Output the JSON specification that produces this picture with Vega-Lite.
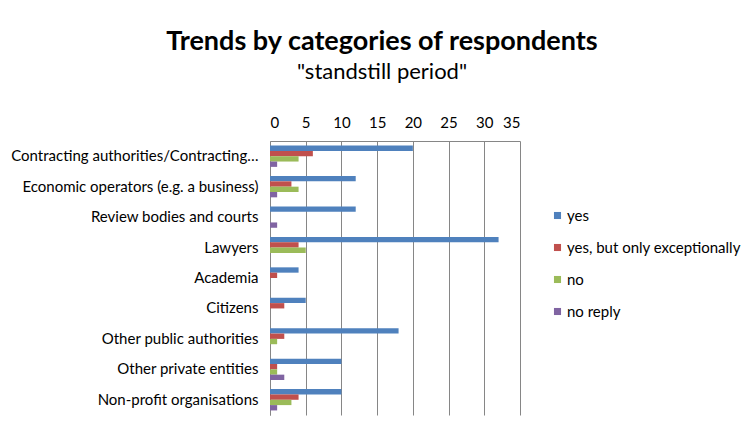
{
  "$schema": "https://vega.github.io/schema/vega-lite/v6.json",
  "autosize": "none",
  "width": 250,
  "height": 274,
  "padding": {"left": 270, "top": 141, "right": 223, "bottom": 12},
  "background": "white",
  "title": {
    "text": "Trends by categories of respondents",
    "subtitle": "\"standstill period\"",
    "font": "Lato",
    "fontSize": 27,
    "fontWeight": "bold",
    "color": "#000000",
    "subtitleFont": "Lato",
    "subtitleFontSize": 22,
    "subtitleColor": "#000000",
    "subtitlePadding": 6,
    "anchor": "middle",
    "dx": -13,
    "offset": 31
  },
  "data": {
    "values": [
      {"category": "Contracting authorities/Contracting entities", "series": "yes", "value": 20},
      {"category": "Contracting authorities/Contracting entities", "series": "yes, but only exceptionally", "value": 6},
      {"category": "Contracting authorities/Contracting entities", "series": "no", "value": 4},
      {"category": "Contracting authorities/Contracting entities", "series": "no reply", "value": 1},
      {"category": "Economic operators (e.g. a business)", "series": "yes", "value": 12},
      {"category": "Economic operators (e.g. a business)", "series": "yes, but only exceptionally", "value": 3},
      {"category": "Economic operators (e.g. a business)", "series": "no", "value": 4},
      {"category": "Economic operators (e.g. a business)", "series": "no reply", "value": 1},
      {"category": "Review bodies and courts", "series": "yes", "value": 12},
      {"category": "Review bodies and courts", "series": "yes, but only exceptionally", "value": 0},
      {"category": "Review bodies and courts", "series": "no", "value": 0},
      {"category": "Review bodies and courts", "series": "no reply", "value": 1},
      {"category": "Lawyers", "series": "yes", "value": 32},
      {"category": "Lawyers", "series": "yes, but only exceptionally", "value": 4},
      {"category": "Lawyers", "series": "no", "value": 5},
      {"category": "Lawyers", "series": "no reply", "value": 0},
      {"category": "Academia", "series": "yes", "value": 4},
      {"category": "Academia", "series": "yes, but only exceptionally", "value": 1},
      {"category": "Academia", "series": "no", "value": 0},
      {"category": "Academia", "series": "no reply", "value": 0},
      {"category": "Citizens", "series": "yes", "value": 5},
      {"category": "Citizens", "series": "yes, but only exceptionally", "value": 2},
      {"category": "Citizens", "series": "no", "value": 0},
      {"category": "Citizens", "series": "no reply", "value": 0},
      {"category": "Other public authorities", "series": "yes", "value": 18},
      {"category": "Other public authorities", "series": "yes, but only exceptionally", "value": 2},
      {"category": "Other public authorities", "series": "no", "value": 1},
      {"category": "Other public authorities", "series": "no reply", "value": 0},
      {"category": "Other private entities", "series": "yes", "value": 10},
      {"category": "Other private entities", "series": "yes, but only exceptionally", "value": 1},
      {"category": "Other private entities", "series": "no", "value": 1},
      {"category": "Other private entities", "series": "no reply", "value": 2},
      {"category": "Non-profit organisations", "series": "yes", "value": 10},
      {"category": "Non-profit organisations", "series": "yes, but only exceptionally", "value": 4},
      {"category": "Non-profit organisations", "series": "no", "value": 3},
      {"category": "Non-profit organisations", "series": "no reply", "value": 1}
    ]
  },
  "mark": {"type": "bar", "stroke": null},
  "encoding": {
    "y": {
      "field": "category",
      "type": "nominal",
      "sort": null,
      "title": null,
      "scale": {"paddingInner": 0.3, "paddingOuter": 0.15},
      "axis": {
        "ticks": false,
        "domainColor": "#868686",
        "labelFont": "Lato",
        "labelFontSize": 15,
        "labelColor": "#000000",
        "labelPadding": 12,
        "labelLimit": 250,
        "grid": false
      }
    },
    "yOffset": {
      "field": "series",
      "type": "nominal",
      "sort": ["yes", "yes, but only exceptionally", "no", "no reply"],
      "scale": {"paddingInner": 0, "paddingOuter": 0}
    },
    "x": {
      "field": "value",
      "type": "quantitative",
      "title": null,
      "scale": {"domain": [0, 35], "nice": false},
      "axis": {
        "orient": "top",
        "values": [0, 5, 10, 15, 20, 25, 30, 35],
        "ticks": false,
        "domainColor": "#868686",
        "gridColor": "#868686",
        "gridOpacity": 1,
        "labelFont": "Lato",
        "labelFontSize": 15,
        "labelColor": "#000000",
        "labelPadding": 11
      }
    },
    "color": {
      "field": "series",
      "type": "nominal",
      "sort": ["yes", "yes, but only exceptionally", "no", "no reply"],
      "scale": {
        "domain": ["yes", "yes, but only exceptionally", "no", "no reply"],
        "range": ["#4F81BD", "#C0504D", "#9BBB59", "#8064A2"]
      },
      "legend": {
        "title": null,
        "orient": "none",
        "legendX": 280,
        "legendY": 67,
        "symbolType": "square",
        "symbolSize": 50,
        "symbolStrokeWidth": 0,
        "labelFont": "Lato",
        "labelFontSize": 15,
        "labelColor": "#000000",
        "rowPadding": 16,
        "labelOffset": 2,
        "labelLimit": 300
      }
    }
  },
  "config": {"view": {"stroke": null}}
}
